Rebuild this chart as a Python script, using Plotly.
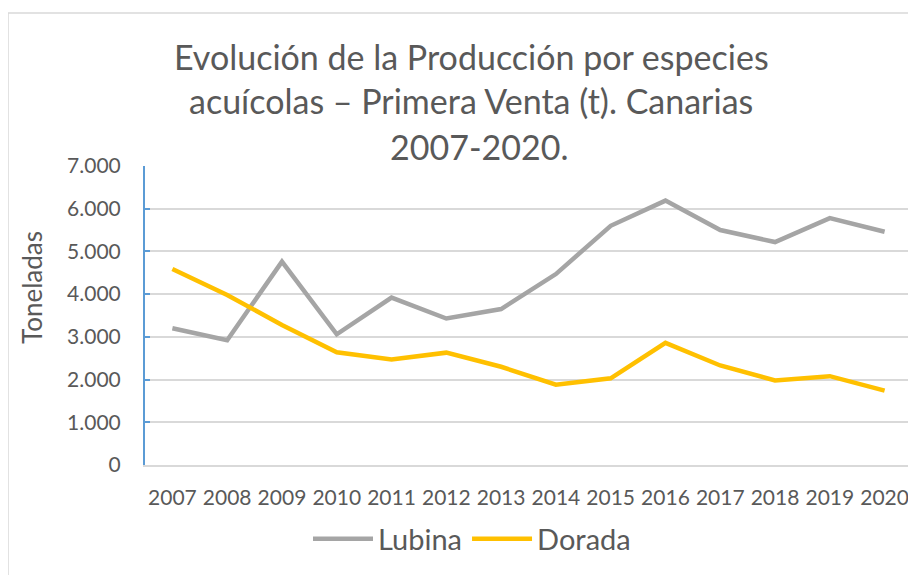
import plotly.graph_objects as go

years = ["2007", "2008", "2009", "2010", "2011", "2012", "2013", "2014",
         "2015", "2016", "2017", "2018", "2019", "2020"]
lubina = [3200, 2920, 4760, 3060, 3920, 3430, 3650, 4470, 5600, 6190, 5500, 5220, 5780, 5460]
dorada = [4590, 3980, 3280, 2640, 2470, 2630, 2300, 1880, 2030, 2860, 2330, 1980, 2080, 1740]
title_lines = ["Evolución de la Producción por especies",
               "acuícolas – Primera Venta (t). Canarias",
               "2007-2020."]
y_title = "Toneladas"

FONT = "Lato"
TXT = "#595959"
OFF = 8  # page body margin

fig = go.Figure()
fig.add_trace(go.Scatter(x=years, y=lubina, name="Lubina", mode="lines",
                         line=dict(color="#A5A5A5", width=4.5)))
fig.add_trace(go.Scatter(x=years, y=dorada, name="Dorada", mode="lines",
                         line=dict(color="#FFC000", width=4.5)))

W, H = 916 - OFF, 575 - OFF
L, R, T, B = 145 - OFF, 4, 166 - OFF, 110
pw, ph = W - L - R, H - T - B


def px_x(p):
    return (p - OFF - L) / pw


def px_y(p):
    return (H - B - (p - OFF)) / ph


for txt, cy, cx in zip(title_lines, [56, 101, 146], [471, 471, 479]):
    fig.add_annotation(text=txt, x=px_x(cx), y=px_y(cy), xref="paper", yref="paper",
                       xanchor="center", yanchor="middle", showarrow=False,
                       font=dict(family=FONT, size=34, color=TXT))

fig.add_annotation(text=y_title, x=px_x(32), y=px_y(288), xref="paper", yref="paper",
                   xanchor="center", yanchor="middle", showarrow=False, textangle=-90,
                   font=dict(family=FONT, size=26, color=TXT))

fig.add_shape(type="rect", xref="paper", yref="paper",
              x0=px_x(8), x1=px_x(940), y0=px_y(600), y1=px_y(13),
              line=dict(color="#D9D9D9", width=1.5), fillcolor="rgba(0,0,0,0)",
              layer="below")

fig.update_layout(
    width=W, height=H,
    margin=dict(l=L, r=R, t=T, b=B, autoexpand=False),
    paper_bgcolor="white", plot_bgcolor="white",
    separators=",.",
    font=dict(family=FONT, color=TXT, size=21),
    showlegend=True,
    legend=dict(orientation="h", x=px_x(472), y=px_y(539), xanchor="center",
                yanchor="middle", font=dict(family=FONT, size=29, color=TXT),
                itemwidth=60, bgcolor="rgba(0,0,0,0)"),
    xaxis=dict(type="category", range=[-0.5, 13.5], showgrid=False, showline=True,
               linecolor="#D9D9D9", linewidth=2, ticks="",
               tickfont=dict(size=21, color=TXT),
               ticklabelstandoff=13, zeroline=False, fixedrange=True),
    yaxis=dict(range=[0, 7000], dtick=1000, tickformat=",.0f",
               showgrid=True, gridcolor="#D9D9D9", gridwidth=1.5,
               showline=True, linecolor="#5B9BD5", linewidth=2,
               ticks="inside", ticklen=5, tickcolor="#5B9BD5", tickwidth=1.5,
               ticklabelstandoff=18, tickfont=dict(size=21, color=TXT),
               zeroline=False),
)

fig.write_html("out.html")
